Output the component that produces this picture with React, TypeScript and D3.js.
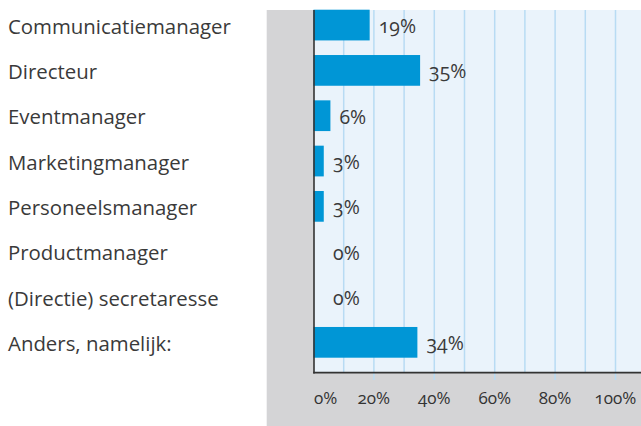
import React from "react";
import * as d3 from "d3";

const categories = [
  "Communicatiemanager",
  "Directeur",
  "Eventmanager",
  "Marketingmanager",
  "Personeelsmanager",
  "Productmanager",
  "(Directie) secretaresse",
  "Anders, namelijk:",
];
const values = [18.6, 35.3, 5.6, 3.4, 3.4, 0, 0, 34.4];
const gridValues = [10, 20, 30, 40, 50, 60, 70, 80, 90, 100, 110];
const tickValues = [0, 20, 40, 60, 80, 100];

const W = 641;
const H = 426;
const FONT = "'Open Sans', sans-serif";

export default function App() {
  const x = d3.scaleLinear().domain([0, 100]).range([313.5, 615.5]);
  const y = d3
    .scaleBand<string>()
    .domain(categories)
    .range([2.4, 365])
    .paddingInner(0.322)
    .paddingOuter(0.161);

  const plotTop = 10;
  const plotBottom = 372.6;
  const plotLeft = 314;

  return (
    <svg
      width={W}
      height={H}
      style={{ position: "absolute", left: 0, top: 0, background: "#fff" }}
      fontFamily={FONT}
    >
      {/* grey panel */}
      <rect x={266.7} y={plotTop} width={W - 266.7} height={H - plotTop} fill="#d4d4d6" />
      {/* plot bg */}
      <rect x={plotLeft} y={plotTop} width={W - plotLeft} height={plotBottom - plotTop} fill="#eaf3fb" />
      {/* gridlines */}
      {gridValues.map((g) => (
        <line
          key={"g" + g}
          x1={x(g)}
          x2={x(g)}
          y1={plotTop}
          y2={g % 20 === 0 ? plotBottom + 7.5 : plotBottom}
          stroke="#b8dbf3"
          strokeWidth={1.5}
        />
      ))}
      {/* bars */}
      {categories.map((c, i) => (
        <rect
          key={"b" + c}
          x={x(0)}
          y={y(c)!}
          width={Math.max(0, x(values[i]) - x(0))}
          height={y.bandwidth()}
          fill="#0096d6"
        />
      ))}
      {/* axis lines */}
      <line x1={plotLeft} x2={plotLeft} y1={plotTop} y2={plotBottom + 0.8} stroke="#333" strokeWidth={1.6} />
      <line x1={plotLeft - 0.8} x2={W} y1={plotBottom} y2={plotBottom} stroke="#333" strokeWidth={1.6} />
      {/* value labels */}
      {categories.map((c, i) => (
        <text
          key={"v" + c}
          x={Math.max(x(values[i]) + 9, 333)}
          y={y(c)! + y.bandwidth() / 2 + 8}
          fontSize={19.5}
          fontWeight={400}
          fill="#3a3a3a"
          style={{ fontVariantNumeric: "oldstyle-nums" }}
        >
          {Math.round(values[i]) + "%"}
        </text>
      ))}
      {/* category labels */}
      {categories.map((c) => (
        <text
          key={"c" + c}
          x={8}
          y={y(c)! + y.bandwidth() / 2 + 8.5}
          fontSize={20.4}
          fontWeight={400}
          fill="#3a3a3a"
        >
          {c}
        </text>
      ))}
      {/* tick labels */}
      {tickValues.map((t) => (
        <text
          key={"t" + t}
          x={t === 0 ? x(0) + 0.5 : x(t)}
          y={404}
          fontSize={17}
          fontWeight={400}
          textAnchor={t === 0 ? "start" : "middle"}
          fill="#333"
          style={{ fontVariantNumeric: "oldstyle-nums" }}
        >
          {t + "%"}
        </text>
      ))}
    </svg>
  );
}
